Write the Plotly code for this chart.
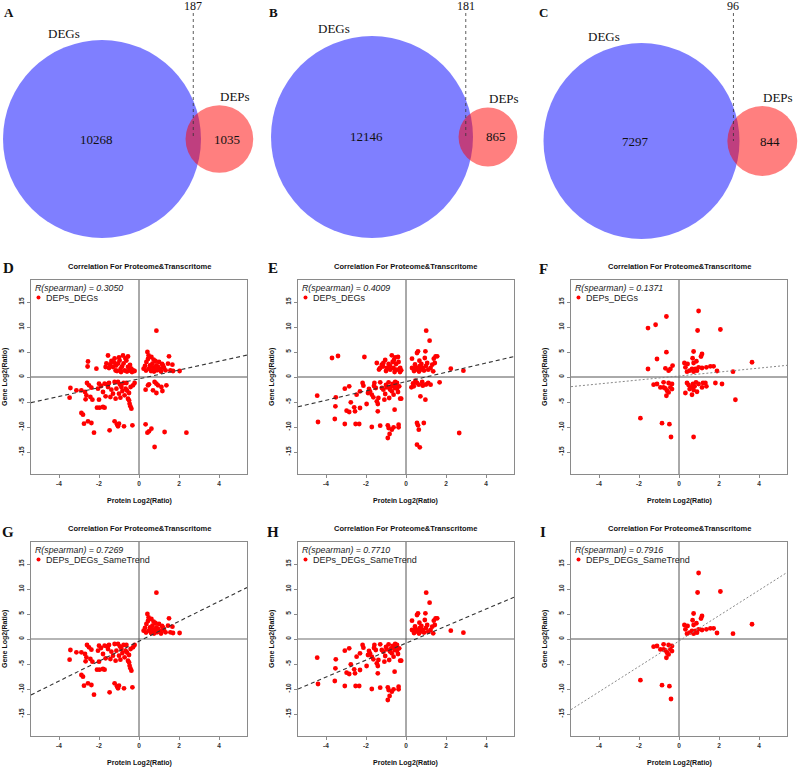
import numpy as np
import plotly.graph_objects as go

W, H = 800, 768

# ======================= DATA =======================
venn_panels = ["A", "B", "C"]
degs_only = [10268, 12146, 7297]
deps_only = [1035, 865, 844]
overlap_n = [187, 181, 96]
set_names = ["DEGs", "DEPs"]

scatter_panels = ["D", "E", "F", "G", "H", "I"]
legend_names = ["DEPs_DEGs", "DEPs_DEGs", "DEPs_DEGs",
                "DEPs_DEGs_SameTrend", "DEPs_DEGs_SameTrend", "DEPs_DEGs_SameTrend"]
spearman_r = ["0.3050", "0.4009", "0.1371", "0.7269", "0.7710", "0.7916"]
fit_slope = [0.88, 0.93, 0.395, 1.99, 1.70, 2.54]
fit_intercept = [-0.37, -0.93, 0.20, -0.45, -0.82, -0.41]
panel_title = "Correlation For Proteome&Transcritome"
x_title = "Protein Log2(Ratio)"
y_title = "Gene Log2(Ratio)"
x_ticks = [-4, -2, 0, 2, 4]
y_ticks = [-15, -10, -5, 0, 5, 10, 15]

# Panel D data (protein log2 ratio, gene log2 ratio)
d_x = [-2.55, -2.57, -2.13, -1.55, -1.63, -1.67, -1.38, -1.3, -1.22, -1.17, -1.05, -0.97, -0.92, -0.8, -0.77,
       -0.72, -0.63, -0.55, -0.55, -0.47, -0.38, -0.3, -0.22, -1.45, -1.1, -0.85, -0.6, -1.5, -1.0, -0.45,
       -1.25, -0.68, -1.15, -0.9, -0.35,
       0.42, 0.23, 0.37, 0.5, 0.62, 0.67, 0.73, 0.78, 0.87, 0.9, 1.0, 1.07, 1.2, 1.33, 1.45, 1.5, 1.57, 1.67,
       1.7, 2.03, 0.87, 0.45, 0.55, 0.6, 0.7, 0.82, 0.95, 1.1, 0.35, 0.48, 0.75, 0.98, 1.25, 0.3, 1.15,
       -3.43, -3.47, -3.13, -2.88, -2.6, -2.5, -2.38, -2.63, -2.67, -2.43, -2.33, -2.05, -2.0, -2.0, -1.8,
       -1.72, -1.67, -1.6, -1.5, -1.43, -1.38, -1.3, -1.22, -1.17, -1.13, -1.05, -1.0, -0.93, -0.88, -0.83,
       -0.77, -0.72, -0.67, -0.63, -0.55, -0.5, -0.47, -0.43, -0.38, -0.5, -0.3, -0.22, -1.97, -2.1, -1.8,
       -1.72, -2.88, -2.8, -2.75, -2.55, -2.38, -2.25, -1.47, -1.22, -1.1, -1.05, -1.0, -0.75, -0.33, -2.7,
       -1.9, -0.95, -0.6, -0.42, -1.55,
       0.33, 0.45, 0.5, 0.78, 0.87, 0.95, 0.7, 0.87, 1.12, 1.17, 1.37, 0.33, 0.42, 0.5, 0.62, 0.78, 1.28, 2.37]
d_y = [3.1, 2.1, 1.67, 4.3, 2.7, 2.0, 3.2, 2.0, 3.7, 1.3, 2.7, 3.3, 1.67, 4.3, 2.7,
       1.3, 3.3, 2.0, 4.1, 1.3, 1.67, 1.3, 1.2, 2.5, 1.2, 2.1, 1.1, 1.8, 3.9, 2.4,
       2.9, 3.7, 2.3, 1.0, 1.0,
       5.0, 1.67, 3.0, 1.67, 4.0, 2.67, 3.47, 1.67, 2.33, 1.33, 3.0, 1.67, 2.33, 1.33, 2.67, 4.13, 1.33, 2.47,
       1.2, 1.2, 9.27, 3.6, 2.3, 1.2, 1.9, 3.2, 2.0, 1.1, 1.3, 4.3, 1.1, 1.5, 1.8, 2.2, 2.6,
       -2.2, -4.13, -2.67, -2.67, -1.2, -1.67, -2.13, -3.67, -4.47, -4.0, -4.53, -2.33, -1.33, -4.53, -3.0,
       -1.33, -3.87, -1.47, -1.2, -4.0, -2.53, -3.33, -1.0, -4.33, -2.33, -1.0, -3.33, -4.13, -2.0, -2.8,
       -1.2, -3.67, -2.33, -1.2, -4.33, -3.2, -5.33, -5.87, -6.33, -4.67, -1.67, -1.2, -6.13, -6.13, -6.0,
       -6.13, -7.2, -7.53, -9.33, -8.87, -9.2, -11.13, -10.67, -8.87, -9.47, -9.87, -9.33, -9.87, -9.67, -3.0,
       -1.8, -1.5, -2.7, -2.0, -2.0,
       -2.53, -1.67, -1.47, -1.0, -1.33, -1.67, -2.67, -3.2, -2.0, -2.8, -1.67, -9.47, -11.13, -10.87, -10.33,
       -14.0, -11.0, -11.13]

# Panel E data
e_x = [-3.7, -3.4, -2.08, -1.46, -1.29, -1.21, -1.13, -1.04, -0.96, -0.87, -0.79, -0.71, -0.67, -0.62, -0.54,
       -0.5, -0.45, -0.4, -0.37, -0.29, -0.24, -0.57, -1.0, -0.8, -1.35, -0.6, -0.3, -1.15,
       0.3, 0.3, 0.47, 0.55, 0.6, 0.6, 0.67, 0.72, 0.77, 0.84, 0.94, 0.97, 1.01, 1.06, 1.11, 1.18, 1.23, 1.31,
       1.39, 1.48, 1.56, 1.44, 1.36, 2.24, 2.87, 0.4, 0.5, 0.65, 0.9, 0.7, 1.0, 0.45,
       -4.44, -4.4, -3.51, -3.53, -3.56, -3.06, -2.84, -2.76, -2.97, -2.84, -2.59, -2.55, -2.47, -2.3, -2.3,
       -2.17, -2.13, -1.97, -1.85, -1.8, -1.71, -1.63, -1.58, -1.51, -1.46, -1.41, -1.41, -1.38, -1.29, -1.21,
       -1.13, -1.08, -1.04, -0.96, -0.87, -0.84, -0.74, -0.71, -0.67, -0.62, -0.57, -0.57, -0.54, -0.5, -0.45,
       -0.4, -0.34, -0.29, -0.24, -3.06, -2.52, -2.34, -1.71, -1.29, -0.91, -0.87, -0.82, -0.91, -0.71, -0.62,
       -0.37, -0.37, -1.9, -1.0, -0.45, -0.8, -1.6,
       0.27, 0.39, 0.47, 0.55, 0.64, 0.72, 0.81, 0.84, 0.97, 1.11, 1.23, 1.68, 0.55, 0.6, 0.64, 0.89, 0.55,
       0.69, 2.66, 0.35, 1.0]
e_y = [3.8, 4.2, 4.0, 2.8, 1.8, 2.47, 2.8, 3.4, 1.8, 2.6, 1.47, 4.33, 3.0, 1.8, 3.93,
       2.6, 1.47, 4.0, 3.0, 1.8, 1.33, 1.0, 1.2, 2.2, 1.5, 3.4, 1.0, 2.1,
       3.67, 1.8, 1.47, 4.8, 5.13, 1.8, 3.27, 1.47, 2.6, 1.8, 3.8, 5.13, 9.27, 2.8, 1.47, 7.27, 1.8, 2.47,
       3.67, 4.13, 4.13, 2.8, 1.13, 1.67, 1.27, 1.2, 1.9, 1.1, 1.3, 2.2, 2.2, 2.5,
       -3.73, -9.0, -4.07, -5.87, -8.4, -2.33, -1.87, -5.07, -6.73, -7.0, -6.07, -6.87, -3.53, -2.87, -6.2,
       -1.2, -1.73, -5.4, -2.4, -2.87, -3.53, -4.07, -1.2, -2.2, -4.87, -5.4, -6.87, -4.2, -1.07, -2.2,
       -2.53, -4.53, -3.4, -2.07, -1.07, -4.2, -1.87, -2.87, -1.4, -3.53, -2.2, -6.53, -1.0, -1.53, -2.33,
       -3.0, -1.87, -4.33, -4.33, -9.4, -9.4, -9.4, -10.0, -9.73, -9.67, -10.2, -11.4, -12.2, -10.53, -10.07,
       -9.53, -10.07, -3.2, -1.6, -1.2, -2.5, -1.8,
       -2.07, -1.87, -0.73, -1.2, -1.53, -3.87, -1.0, -1.73, -4.53, -1.2, -1.53, -1.07, -9.2, -9.67, -10.53,
       -9.2, -13.53, -14.07, -11.2, -1.3, -1.5]

# Panel F data
f_x = [-1.55, -1.55, -1.17, -1.1, -0.63, -0.63, -0.68, -0.52, -0.43, -0.32,
       0.98, 0.93, 2.07, 0.73, 1.15, 1.1, 0.27, 0.43, 0.68, 0.73, 0.87, 0.32, 0.4, 0.53, 0.65, 0.73, 0.82,
       0.9, 0.98, 1.15, 1.37, 1.57, 1.73, 1.9, 2.7, 3.65,
       -1.27, -1.1, -0.93, -0.77, -0.68, -0.63, -0.6, -0.52, -0.52, -0.43, -0.35, -0.35, -0.77, -1.93,
       -0.85, -0.48, -0.4,
       0.32, 0.4, 0.48, 0.53, 0.6, 0.65, 0.7, 0.73, 0.78, 0.85, 0.9, 0.98, 1.15, 1.2, 1.32, 1.37, 1.82,
       2.15, 2.82, 0.73]
f_y = [1.6, 9.78, 10.45, 3.6, 12.1, 4.96, 1.74, 1.27, 1.6, 2.28,
       13.2, 9.3, 9.5, 5.1, 4.6, 4.1, 2.8, 2.6, 3.75, 2.8, 3.15, 1.94, 1.07, 1.27, 1.6, 1.07, 1.6,
       1.27, 1.94, 1.8, 1.94, 2.14, 2.14, 1.2, 1.07, 2.95,
       -1.54, -1.4, -2.08, -1.07, -2.28, -3.75, -2.75, -1.2, -3.08, -2.08, -1.4, -2.41, -2.08, -8.24,
       -9.24, -9.44, -12.0,
       -3.2, -1.2, -1.6, -2.41, -2.08, -3.55, -1.4, -2.61, -1.87, -1.07, -2.95, -1.4, -2.08, -1.2, -1.2,
       -1.87, -1.2, -1.4, -4.55, -12.0]

# ================= LAYOUT CONSTANTS =================
SERIF = "Liberation Serif, Times New Roman, serif"
SANS = "Liberation Sans, Arial, Helvetica, sans-serif"

venn_cx = [102, 372, 641.5]
venn_cy = [139, 137, 141]
venn_r = [99, 101, 98]
venn_letter_x = [9, 273, 543]

box_left = [31, 298, 571]
box_top = [280, 542]
box_w, box_h = 216, 194
x_range = [-5.4, 5.4]
y_range = [-19.4, 19.4]
letter_pos = [(8, 268), (273, 268), (543, 269), (8, 532), (273, 532), (543, 532)]


def px(x):
    return x / W


def py(y):
    return 1 - y / H


def lens_area(r1, r2, d):
    if d >= r1 + r2:
        return 0.0
    if d <= abs(r1 - r2):
        return np.pi * min(r1, r2) ** 2
    a1 = np.arccos((d * d + r1 * r1 - r2 * r2) / (2 * d * r1))
    a2 = np.arccos((d * d + r2 * r2 - r1 * r1) / (2 * d * r2))
    return r1 * r1 * (a1 - np.sin(a1) * np.cos(a1)) + r2 * r2 * (a2 - np.sin(a2) * np.cos(a2))


def solve_distance(r1, r2, target):
    lo, hi = abs(r1 - r2) + 1e-6, r1 + r2
    for _ in range(80):
        mid = (lo + hi) / 2
        if lens_area(r1, r2, mid) > target:
            lo = mid
        else:
            hi = mid
    return (lo + hi) / 2


fig = go.Figure()
shapes = []
annotations = []


def add_text(x, y, text, size, family=SANS, color="#111", xanchor="center", angle=0):
    annotations.append(dict(x=px(x), y=py(y), xref="paper", yref="paper", text=text,
                            showarrow=False, xanchor=xanchor, yanchor="middle", textangle=angle,
                            font=dict(family=family, size=size, color=color)))


# ======================= VENN =======================
for i in range(3):
    big_total = degs_only[i] + overlap_n[i]
    small_total = deps_only[i] + overlap_n[i]
    r1 = venn_r[i]
    r2 = r1 * np.sqrt(small_total / big_total)
    target = overlap_n[i] / big_total * np.pi * r1 * r1
    d = solve_distance(r1, r2, target)
    cx, cy = venn_cx[i], venn_cy[i]
    sx = cx + d
    shapes.append(dict(type="circle", xref="paper", yref="paper",
                       x0=px(cx - r1), x1=px(cx + r1), y0=py(cy + r1), y1=py(cy - r1),
                       fillcolor="rgba(0,0,255,0.5)", line=dict(width=0), layer="above"))
    shapes.append(dict(type="circle", xref="paper", yref="paper",
                       x0=px(sx - r2), x1=px(sx + r2), y0=py(cy + r2), y1=py(cy - r2),
                       fillcolor="rgba(255,0,0,0.5)", line=dict(width=0), layer="above"))
    xl = ((cx + r1) + (sx - r2)) / 2
    shapes.append(dict(type="line", xref="paper", yref="paper",
                       x0=px(xl), x1=px(xl), y0=py(13), y1=py(cy),
                       line=dict(color="#333", width=0.8, dash="dot"), layer="above"))
    add_text(cx - 38, cy - r1 - 7, set_names[0], 13, SERIF)
    add_text(sx + 16, cy - r2 - 9, set_names[1], 13, SERIF)
    add_text(cx - 6, cy, str(degs_only[i]), 13, SERIF)
    add_text(sx + 8, cy, str(deps_only[i]), 13, SERIF)
    add_text(xl, 6, str(overlap_n[i]), 12, SERIF)
    add_text(venn_letter_x[i], 12, "<b>%s</b>" % venn_panels[i], 13, SERIF, xanchor="center")

# ===================== SCATTERS =====================
datasets = [(d_x, d_y), (e_x, e_y), (f_x, f_y)]
layout_axes = {}
for i in range(6):
    col, row = i % 3, i // 3
    L, T = box_left[col], box_top[row]
    xs, ys = datasets[col]
    xs = np.array(xs)
    ys = np.array(ys)
    if row == 1:  # same trend: protein and gene change in the same direction
        keep = xs * ys > 0
        xs, ys = xs[keep], ys[keep]
    k = "" if i == 0 else str(i + 1)
    xref, yref = "x" + k, "y" + k

    fig.add_trace(go.Scatter(x=xs, y=ys, mode="markers", xaxis=xref, yaxis=yref,
                             marker=dict(color="#ff0000", size=4.8, line=dict(width=0)),
                             hoverinfo="skip", showlegend=False))
    fx = np.array(x_range)
    fy = fit_slope[i] * fx + fit_intercept[i]
    dotted = col == 2
    fig.add_trace(go.Scatter(x=fx, y=fy, mode="lines", xaxis=xref, yaxis=yref,
                             line=dict(color="#888" if dotted else "#333", width=1 if dotted else 1.1,
                                       dash="2px,2px" if dotted else "4px,3px"),
                             hoverinfo="skip", showlegend=False))

    tickfont = dict(family=SANS, size=6.5, color="#333", weight="bold")
    layout_axes["xaxis" + k] = dict(domain=[px(L), px(L + box_w)], range=x_range, anchor=yref,
                                    tickvals=x_ticks, ticktext=[str(v) for v in x_ticks],
                                    showgrid=False, zeroline=False, showline=True, mirror=True,
                                    linecolor="#8a8a8a", linewidth=1, ticks="outside", ticklen=3,
                                    tickcolor="#8a8a8a", tickfont=tickfont, fixedrange=True)
    layout_axes["yaxis" + k] = dict(domain=[py(T + box_h), py(T)], range=y_range, anchor=xref,
                                    tickvals=y_ticks, ticktext=[str(v) for v in y_ticks],
                                    tickangle=-90,
                                    showgrid=False, zeroline=False, showline=True, mirror=True,
                                    linecolor="#8a8a8a", linewidth=1, ticks="outside", ticklen=3,
                                    tickcolor="#8a8a8a", tickfont=tickfont, fixedrange=True)
    # zero lines
    hcol, hw = ("#b5b5b5", 2.2) if (row == 1 and col < 2) else ("#555", 1)
    shapes.append(dict(type="line", xref=xref + " domain", yref=yref, x0=0, x1=1, y0=0, y1=0,
                       line=dict(color=hcol, width=hw), layer="below"))
    shapes.append(dict(type="line", xref=xref, yref=yref + " domain", x0=0, x1=0, y0=0, y1=1,
                       line=dict(color="#555", width=1), layer="below"))

    cxb = L + box_w / 2
    add_text(cxb, T - 14, "<b>%s</b>" % panel_title, 7.5, SANS)
    add_text(cxb, T + box_h + 27, "<b>%s</b>" % x_title, 7, SANS)
    add_text(L - 26, T + box_h / 2, "<b>%s</b>" % y_title, 7, SANS, angle=-90)
    lx, ly = letter_pos[i]
    add_text(lx, ly, "<b>%s</b>" % scatter_panels[i], 15, SERIF)
    # in-plot legend
    add_text(L + 2, T + 8, "<i>R(spearman) = %s</i>" % spearman_r[i], 8.8, SANS, color="#222",
             xanchor="left")
    shapes.append(dict(type="circle", xref="paper", yref="paper",
                       x0=px(L + 5.5), x1=px(L + 9.5), y0=py(T + 19.5), y1=py(T + 15.5),
                       fillcolor="#ff0000", line=dict(width=0)))
    add_text(L + 13, T + 17.5, legend_names[i], 9, SANS, color="#222", xanchor="left")

fig.update_layout(width=W, height=H, margin=dict(l=0, r=0, t=0, b=0),
                  paper_bgcolor="white", plot_bgcolor="white", showlegend=False,
                  shapes=shapes, annotations=annotations, **layout_axes)

fig.write_html("out.html", config={"displayModeBar": False},
               post_script="document.body.style.margin='0px'; document.body.style.overflow='hidden';")
